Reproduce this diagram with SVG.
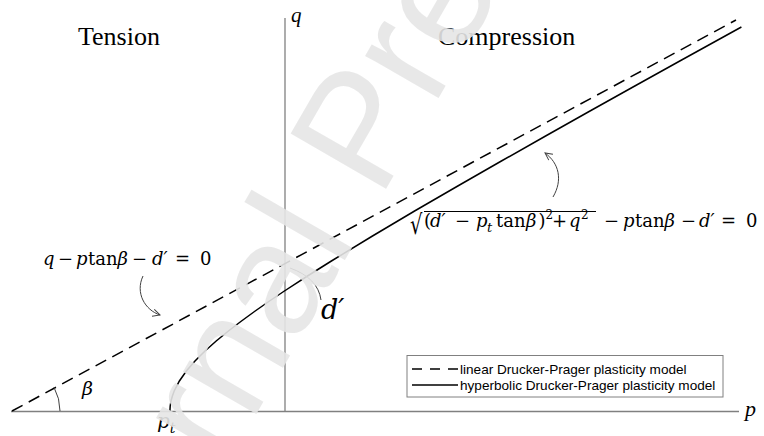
<svg xmlns="http://www.w3.org/2000/svg" width="764" height="436" viewBox="0 0 764 436">
<defs>
<style>
.axis{stroke:#808080;stroke-width:1.3;fill:none}
.lin{stroke:#000;stroke-width:1.5;fill:none;stroke-dasharray:12 7}
.hyp{stroke:#000;stroke-width:1.5;fill:none}
.lead{stroke:#404040;stroke-width:1;fill:none}
.lbl{font-family:"Liberation Serif","Times New Roman",serif;fill:#000}
.m{font-family:"DejaVu Serif","Liberation Serif",serif;fill:#000}
.it{font-style:italic}
.leg{font-family:"Liberation Sans",Arial,sans-serif;font-size:13.6px;fill:#000}
</style>
<marker id="ah" viewBox="0 0 10 10" refX="9" refY="5" markerWidth="9" markerHeight="9" markerUnits="userSpaceOnUse" orient="auto">
<path d="M1,1 L9,5 L1,9" fill="none" stroke="#404040" stroke-width="1.1"/>
</marker>
</defs>
<rect width="764" height="436" fill="#fff"/>
<g id="axes">
<line class="axis" x1="11" y1="411.5" x2="739" y2="411.5"/>
<line class="axis" x1="285" y1="18" x2="285" y2="411.5"/>
<text class="lbl it" x="745" y="416" font-size="22">p</text>
<text class="lbl it" x="291" y="22" font-size="21">q</text>
</g>
<g id="region-labels">
<text class="lbl" x="78" y="45" font-size="26">Tension</text>
<text class="lbl" x="438" y="45" font-size="26">Compression</text>
</g>
<g id="connectors">
<line id="linear-dp" class="lin" x1="12" y1="411" x2="736" y2="20"/>
<polyline id="hyperbolic-dp" class="hyp" points="169.9,411 170.2,406 171,401 172.4,396 174.2,391 179.4,381 186.4,371 195,361 205,351 216.2,341 228.4,331 241.5,321 255.2,311 269.5,301 284.4,291 307.5,276 331.4,261 372.5,236 414.6,211 457.8,186 501.4,161 545.6,136 590,111 634.8,86 679.8,61 741.4,27"/>
<path class="lead" d="M143,276 C135,293 145,310 160,315" marker-end="url(#ah)"/>
<path class="lead" d="M553,197 C563,180 559,163 545,153" marker-end="url(#ah)"/>
<path class="lead" d="M290,268 Q318,278 321,300"/>
<path class="lead" d="M54,387.3 A50,50 0 0 1 60,411"/>
</g>
<g id="beta-label">
<text class="m it" x="82" y="395" font-size="19">β</text>
</g>
<g id="pt-label">
<text class="m it" x="157" y="428" font-size="20">p<tspan font-size="14" dy="5">t</tspan></text>
</g>
<g id="d-label">
<text class="m it" x="321" y="319" font-size="27">d′</text>
</g>
<g id="eq-linear">
<text class="m" y="265" font-size="18"><tspan class="it" x="43">q</tspan><tspan x="58">−</tspan><tspan class="it" x="76">p</tspan><tspan x="88">tan</tspan><tspan class="it" x="117.5">β</tspan><tspan x="132">−</tspan><tspan class="it" x="152">d′</tspan><tspan x="175">=</tspan><tspan x="200">0</tspan></text>
</g>
<g id="eq-hyperbolic">
<text class="m" transform="translate(410,234) scale(0.72,1)" font-size="27">√</text>
<line x1="424" y1="211.5" x2="596" y2="211.5" stroke="#000" stroke-width="1.2"/>
<text class="m" y="227" font-size="18"><tspan x="424">(</tspan><tspan class="it" x="430">d′</tspan><tspan x="455">−</tspan><tspan class="it" x="476">p</tspan><tspan class="it" x="487" dy="5" font-size="13">t</tspan><tspan x="496" dy="-5">tan</tspan><tspan class="it" x="526">β</tspan><tspan x="538.5">)</tspan><tspan x="545.5" dy="-8" font-size="12">2</tspan><tspan x="552" dy="8">+</tspan><tspan class="it" x="569">q</tspan><tspan x="581" dy="-8" font-size="12">2</tspan><tspan x="604" dy="8">−</tspan><tspan class="it" x="623">p</tspan><tspan x="635">tan</tspan><tspan class="it" x="664.5">β</tspan><tspan x="681">−</tspan><tspan class="it" x="699">d′</tspan><tspan x="721">=</tspan><tspan x="746">0</tspan></text>
</g>
<g id="legend">
<rect x="407" y="355.5" width="316" height="41.5" fill="#fff" stroke="#808080" stroke-width="1"/>
<line x1="412" y1="369" x2="458" y2="369" stroke="#000" stroke-width="1.3" stroke-dasharray="10 8"/>
<line x1="412" y1="385" x2="458" y2="385" stroke="#000" stroke-width="1.3"/>
<text class="leg" x="460" y="374">linear Drucker-Prager plasticity model</text>
<text class="leg" x="460" y="390">hyperbolic Drucker-Prager plasticity model</text>
</g>
<g id="watermark">
<text x="0" y="0" transform="translate(95,693) rotate(-60)" font-family="Liberation Sans,Arial,sans-serif" font-size="160" fill="#e6e6e6" fill-opacity="0.9">Journal Pre-proof</text>
</g>
</svg>
